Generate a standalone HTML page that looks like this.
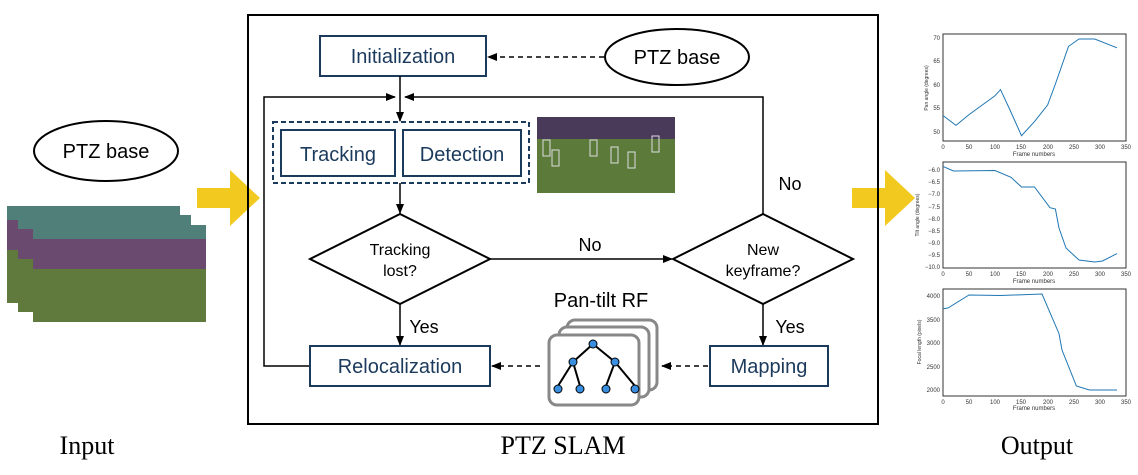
<!DOCTYPE html>
<html><head><meta charset="utf-8"><style>
body{margin:0;background:#fff;}
svg{display:block;}
.t{font-family:"Liberation Sans",sans-serif;}
.s{font-family:"Liberation Serif",serif;}
</style></head><body>
<svg width="1138" height="475" viewBox="0 0 1138 475" xmlns="http://www.w3.org/2000/svg">
<defs>
<marker id="a" markerWidth="10" markerHeight="10" refX="9" refY="5" orient="auto" markerUnits="userSpaceOnUse"><path d="M0,1 L10,5 L0,9 Z" fill="#000"/></marker>
<g id="img">
<rect x="0" y="0" width="173" height="97" fill="#5a6e3a"/>
<rect x="0" y="0" width="173" height="14" fill="#4f7f78"/>
<rect x="0" y="14" width="173" height="30" fill="#6a4a6e"/>
<rect x="0" y="44" width="173" height="53" fill="#5f7a3c"/>
</g>
</defs>
<!-- input images -->
<use href="#img" x="7" y="206"/>
<use href="#img" x="18" y="215"/>
<use href="#img" x="33" y="225"/>
<ellipse cx="106" cy="151" rx="72" ry="30" fill="#fff" stroke="#000" stroke-width="2"/>
<text x="106" y="158" class="t" font-size="20" text-anchor="middle">PTZ base</text>
<!-- yellow arrows -->
<path d="M197,188 L230,188 L230,170 L260,198 L230,226 L230,208 L197,208 Z" fill="#f2c91f"/>
<path d="M852,188 L885,188 L885,170 L915,198 L885,226 L885,208 L852,208 Z" fill="#f2c91f"/>
<!-- main box -->
<rect x="248" y="15" width="630" height="409" fill="none" stroke="#000" stroke-width="2"/>
<rect x="320" y="36" width="166" height="40" fill="#fff" stroke="#1b3a5c" stroke-width="2"/>
<text x="403" y="63" class="t" font-size="20" fill="#1b3a5c" text-anchor="middle">Initialization</text>
<ellipse cx="677" cy="57" rx="72" ry="28" fill="#fff" stroke="#000" stroke-width="2"/>
<text x="677" y="64" class="t" font-size="20" text-anchor="middle">PTZ base</text>
<line x1="604" y1="57" x2="488" y2="57" stroke="#000" stroke-width="1.5" stroke-dasharray="5,4" marker-end="url(#a)"/>
<line x1="400" y1="76" x2="400" y2="121" stroke="#000" stroke-width="1.5" marker-end="url(#a)"/>
<polyline points="310,366 264,366 264,97 395,97" fill="none" stroke="#000" stroke-width="1.5" marker-end="url(#a)"/>
<polyline points="763,214 763,97 405,97" fill="none" stroke="#000" stroke-width="1.5" marker-end="url(#a)"/>
<rect x="273" y="122" width="256" height="61" fill="none" stroke="#1b3a5c" stroke-width="2" stroke-dasharray="5,3"/>
<rect x="281" y="130" width="114" height="46" fill="#fff" stroke="#1b3a5c" stroke-width="2"/>
<text x="338" y="161" class="t" font-size="20" fill="#1b3a5c" text-anchor="middle">Tracking</text>
<rect x="403" y="130" width="118" height="46" fill="#fff" stroke="#1b3a5c" stroke-width="2"/>
<text x="462" y="161" class="t" font-size="20" fill="#1b3a5c" text-anchor="middle">Detection</text>
<!-- detection image -->
<rect x="537" y="117" width="138" height="76" fill="#5c7a3a"/>
<rect x="537" y="117" width="138" height="22" fill="#4a3a5a"/>
<g fill="none" stroke="#ddd" stroke-width="1"><rect x="543" y="140" width="7" height="16"/><rect x="552" y="150" width="7" height="16"/><rect x="590" y="140" width="7" height="16"/><rect x="611" y="147" width="7" height="16"/><rect x="628" y="152" width="7" height="16"/><rect x="652" y="136" width="7" height="16"/></g>
<line x1="400" y1="183" x2="400" y2="213" stroke="#000" stroke-width="1.5" marker-end="url(#a)"/>
<!-- diamonds -->
<polygon points="310,259 400,214 490,259 400,304" fill="#fff" stroke="#000" stroke-width="2"/>
<text x="400" y="255" class="t" font-size="16" text-anchor="middle">Tracking</text>
<text x="400" y="276" class="t" font-size="16" text-anchor="middle">lost?</text>
<polygon points="673,259 763,214 853,259 763,304" fill="#fff" stroke="#000" stroke-width="2"/>
<text x="763" y="255" class="t" font-size="16" text-anchor="middle">New</text>
<text x="763" y="276" class="t" font-size="16" text-anchor="middle">keyframe?</text>
<line x1="490" y1="259" x2="672" y2="259" stroke="#000" stroke-width="1.5" marker-end="url(#a)"/>
<text x="590" y="251" class="t" font-size="18" text-anchor="middle">No</text>
<text x="790" y="190" class="t" font-size="18" text-anchor="middle">No</text>
<line x1="400" y1="304" x2="400" y2="345" stroke="#000" stroke-width="1.5" marker-end="url(#a)"/>
<line x1="763" y1="304" x2="763" y2="345" stroke="#000" stroke-width="1.5" marker-end="url(#a)"/>
<text x="424" y="333" class="t" font-size="18" text-anchor="middle">Yes</text>
<text x="790" y="333" class="t" font-size="18" text-anchor="middle">Yes</text>
<rect x="310" y="346" width="180" height="40" fill="#fff" stroke="#1b3a5c" stroke-width="2"/>
<text x="400" y="373" class="t" font-size="20" fill="#1b3a5c" text-anchor="middle">Relocalization</text>
<rect x="710" y="346" width="118" height="40" fill="#fff" stroke="#1b3a5c" stroke-width="2"/>
<text x="769" y="373" class="t" font-size="20" fill="#1b3a5c" text-anchor="middle">Mapping</text>
<line x1="708" y1="366" x2="662" y2="366" stroke="#000" stroke-width="1.5" stroke-dasharray="5,4" marker-end="url(#a)"/>
<line x1="540" y1="366" x2="492" y2="366" stroke="#000" stroke-width="1.5" stroke-dasharray="5,4" marker-end="url(#a)"/>
<!-- RF -->
<text x="601" y="307" class="t" font-size="20" text-anchor="middle">Pan-tilt RF</text>
<g stroke="#888" stroke-width="3" fill="#fff">
<rect x="567" y="320" width="90" height="70" rx="8"/>
<rect x="559" y="327" width="90" height="70" rx="8"/>
<rect x="549" y="335" width="90" height="70" rx="8"/>
</g>
<g stroke="#000" stroke-width="2"><line x1="593" y1="344" x2="573" y2="362"/><line x1="593" y1="344" x2="615" y2="362"/><line x1="573" y1="362" x2="558" y2="386"/><line x1="573" y1="362" x2="580" y2="386"/><line x1="615" y1="362" x2="606" y2="386"/><line x1="615" y1="362" x2="635" y2="386"/></g>
<g fill="#3a8ee0" stroke="#000" stroke-width="1"><circle cx="593" cy="344" r="4"/><circle cx="573" cy="362" r="4"/><circle cx="615" cy="362" r="4"/><circle cx="558" cy="389" r="4"/><circle cx="580" cy="389" r="4"/><circle cx="606" cy="389" r="4"/><circle cx="635" cy="389" r="4"/></g>
<!-- charts -->
<g class="t" font-size="6" fill="#333">
<rect x="943" y="34" width="183" height="107" fill="none" stroke="#333" stroke-width="1"/>
<polyline fill="none" stroke="#1f77b4" stroke-width="1" points="943,115.5 956,125.4 969,114.6 995,95.8 1000.5,89.6 1010,110 1021.5,135.7 1034.5,121.6 1047.6,105 1055.4,84 1068.5,46.4 1079,39 1094.7,39 1117,47.8"/>
<text x="940" y="40" text-anchor="end">70</text><text x="940" y="63" text-anchor="end">65</text><text x="940" y="87" text-anchor="end">60</text><text x="940" y="110" text-anchor="end">55</text><text x="940" y="134" text-anchor="end">50</text>
<text x="943" y="149" text-anchor="middle">0</text><text x="969" y="149" text-anchor="middle">50</text><text x="995" y="149" text-anchor="middle">100</text><text x="1021" y="149" text-anchor="middle">150</text><text x="1048" y="149" text-anchor="middle">200</text><text x="1074" y="149" text-anchor="middle">250</text><text x="1100" y="149" text-anchor="middle">300</text><text x="1126" y="149" text-anchor="middle">350</text>
<text x="1034" y="156" text-anchor="middle">Frame numbers</text>
<text transform="translate(928,88) rotate(-90)" text-anchor="middle" font-size="5">Pan angle (degrees)</text>

<rect x="943" y="162" width="183" height="106" fill="none" stroke="#333" stroke-width="1"/>
<polyline fill="none" stroke="#1f77b4" stroke-width="1" points="943,166.4 953.5,171 995,170.5 1011,177.3 1021.5,187 1034.5,187 1050,207.7 1055.4,209 1059,228 1066,248 1079,260 1094.7,262 1102.5,261 1117,253.6"/>
<text x="940" y="172" text-anchor="end">−6.0</text><text x="940" y="184" text-anchor="end">−6.5</text><text x="940" y="196" text-anchor="end">−7.0</text><text x="940" y="209" text-anchor="end">−7.5</text><text x="940" y="221" text-anchor="end">−8.0</text><text x="940" y="233" text-anchor="end">−8.5</text><text x="940" y="245" text-anchor="end">−9.0</text><text x="940" y="257" text-anchor="end">−9.5</text><text x="940" y="269" text-anchor="end">−10.0</text>
<text x="943" y="276" text-anchor="middle">0</text><text x="969" y="276" text-anchor="middle">50</text><text x="995" y="276" text-anchor="middle">100</text><text x="1021" y="276" text-anchor="middle">150</text><text x="1048" y="276" text-anchor="middle">200</text><text x="1074" y="276" text-anchor="middle">250</text><text x="1100" y="276" text-anchor="middle">300</text><text x="1126" y="276" text-anchor="middle">350</text>
<text x="1034" y="283" text-anchor="middle">Frame numbers</text>
<text transform="translate(919,215) rotate(-90)" text-anchor="middle" font-size="5">Tilt angle (degrees)</text>

<rect x="943" y="289" width="183" height="107" fill="none" stroke="#333" stroke-width="1"/>
<polyline fill="none" stroke="#1f77b4" stroke-width="1" points="943,308.7 948,308 969,295 1000.5,295.5 1042,294 1059,333.6 1062,350 1076.4,386 1089.5,390 1117,390"/>
<text x="940" y="298" text-anchor="end">4000</text><text x="940" y="322" text-anchor="end">3500</text><text x="940" y="345" text-anchor="end">3000</text><text x="940" y="369" text-anchor="end">2500</text><text x="940" y="392" text-anchor="end">2000</text>
<text x="943" y="404" text-anchor="middle">0</text><text x="969" y="404" text-anchor="middle">50</text><text x="995" y="404" text-anchor="middle">100</text><text x="1021" y="404" text-anchor="middle">150</text><text x="1048" y="404" text-anchor="middle">200</text><text x="1074" y="404" text-anchor="middle">250</text><text x="1100" y="404" text-anchor="middle">300</text><text x="1126" y="404" text-anchor="middle">350</text>
<text x="1034" y="410" text-anchor="middle">Frame numbers</text>
<text transform="translate(921,342) rotate(-90)" text-anchor="middle" font-size="5">Focal length (pixels)</text>
</g>
<!-- bottom labels -->
<text x="87" y="454" class="s" font-size="26" text-anchor="middle">Input</text>
<text x="563" y="454" class="s" font-size="26" text-anchor="middle">PTZ SLAM</text>
<text x="1037" y="454" class="s" font-size="26" text-anchor="middle">Output</text>
</svg>
</body></html>
